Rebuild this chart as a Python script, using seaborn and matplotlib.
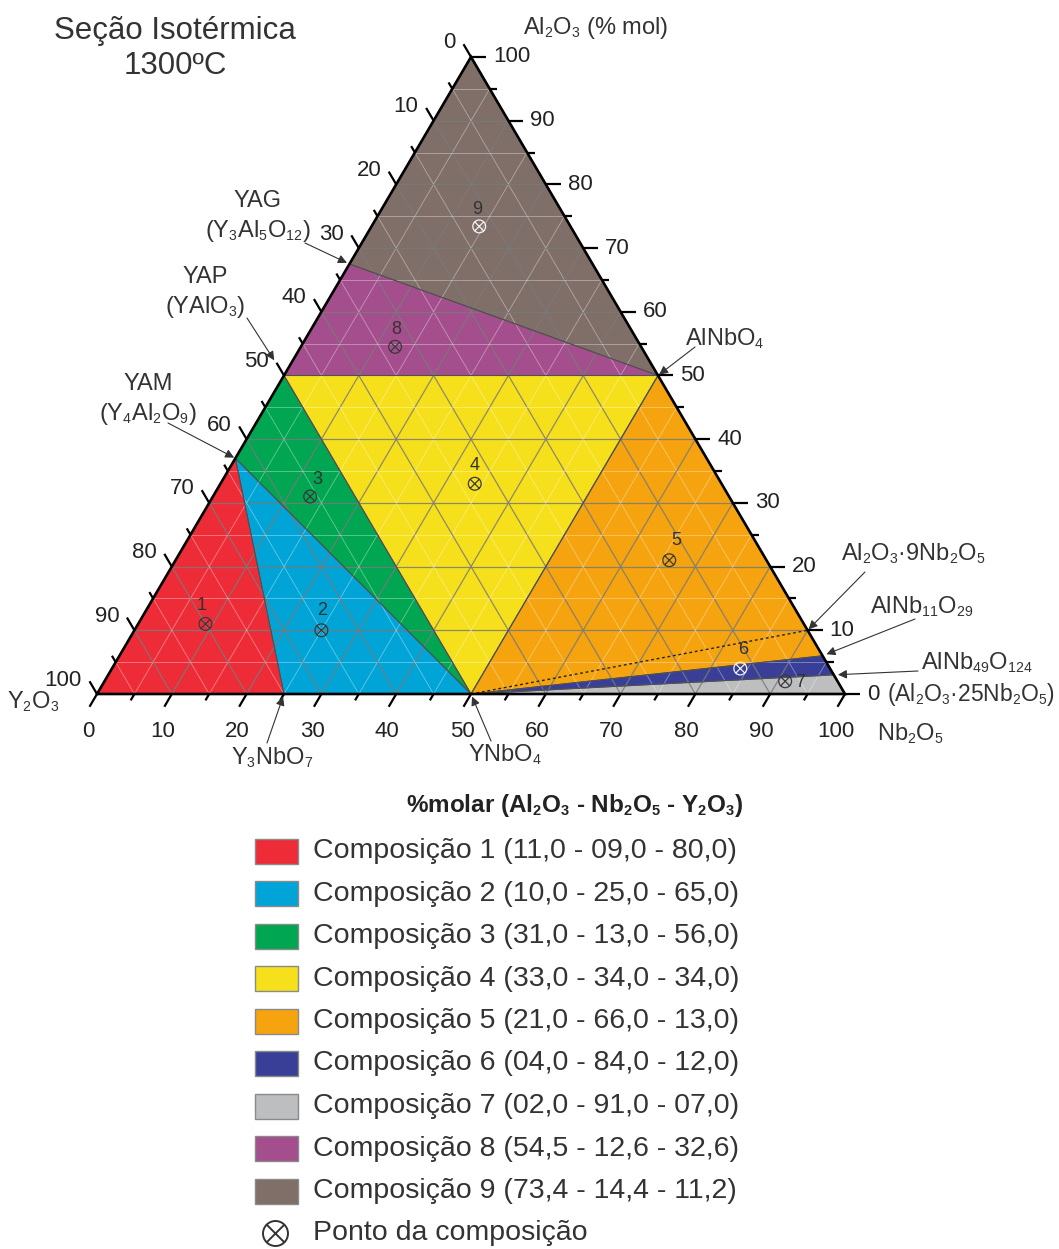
import numpy as np
import pandas as pd
import matplotlib
matplotlib.use("Agg")
import matplotlib.pyplot as plt
from matplotlib.path import Path
from matplotlib.patches import Rectangle
import matplotlib._mathtext as _mt
import seaborn as sns

_mt.SHRINK_FACTOR = 0.6   # smaller sub/superscripts, closer to the reference

# ------------------------------------------------------------------ data
# phase-diagram nodes (mol % Al2O3, mol % Nb2O5; Y2O3 is the rest)
node_names = ["Al2O3", "Nb2O5", "Y2O3", "YAG", "YAP", "YAM", "Y3NbO7",
              "YNbO4", "AlNbO4", "Al2O3_9Nb2O5", "AlNb11O29", "AlNb49O124"]
node_al = [100.0, 0.0, 0.0, 67.5, 50.0, 37.0, 0.0, 0.0, 50.0, 10.0, 6.0, 3.0]
node_nb = [0.0, 100.0, 0.0, 0.0, 0.0, 0.0, 25.0, 50.0, 50.0, 90.0, 94.0, 97.0]

# phase fields, one per composition
field_nodes = [
    ["Y2O3", "Y3NbO7", "YAM"],
    ["YAM", "Y3NbO7", "YNbO4"],
    ["YAM", "YNbO4", "YAP"],
    ["YAP", "YNbO4", "AlNbO4"],
    ["AlNbO4", "YNbO4", "AlNb11O29"],
    ["YNbO4", "AlNb49O124", "AlNb11O29"],
    ["YNbO4", "Nb2O5", "AlNb49O124"],
    ["YAP", "AlNbO4", "YAG"],
    ["YAG", "AlNbO4", "Al2O3"],
]
field_colors = ["#ED2C38", "#00A4D6", "#00A651", "#F6E01B", "#F5A30E",
                "#393F96", "#BCBEC0", "#A44E8D", "#806E68"]

# composition points (Al2O3 - Nb2O5 - Y2O3, mol %)
comp_ids = ["1", "2", "3", "4", "5", "6", "7", "8", "9"]
comp_al = [11.0, 10.0, 31.0, 33.0, 21.0, 4.0, 2.0, 54.5, 73.4]
comp_nb = [9.0, 25.0, 13.0, 34.0, 66.0, 84.0, 91.0, 12.6, 14.4]
comp_y = [80.0, 65.0, 56.0, 34.0, 13.0, 12.0, 7.0, 32.6, 11.2]
comp_tone = ["dark", "dark", "dark", "dark", "dark", "light", "dark", "dark", "light"]

legend_labels = [
    "Composição 1 (11,0 - 09,0 - 80,0)",
    "Composição 2 (10,0 - 25,0 - 65,0)",
    "Composição 3 (31,0 - 13,0 - 56,0)",
    "Composição 4 (33,0 - 34,0 - 34,0)",
    "Composição 5 (21,0 - 66,0 - 13,0)",
    "Composição 6 (04,0 - 84,0 - 12,0)",
    "Composição 7 (02,0 - 91,0 - 07,0)",
    "Composição 8 (54,5 - 12,6 - 32,6)",
    "Composição 9 (73,4 - 14,4 - 11,2)",
]
tick_values = list(range(0, 101, 5))

# ------------------------------------------------------------------ style
sns.set_theme(style="white")
plt.rcParams["font.family"] = ["Liberation Sans", "DejaVu Sans"]
plt.rcParams["mathtext.fontset"] = "custom"
plt.rcParams["mathtext.rm"] = "Liberation Sans"
plt.rcParams["mathtext.it"] = "Liberation Sans"
plt.rcParams["mathtext.bf"] = "Liberation Sans:bold"

TXT = "#333333"
W, H = 1059, 1249
X0, Y0, SX, SY = 97.0, 694.0, 7.48, 7.356   # pixel layout of the triangle

fig = plt.figure(figsize=(W / 100, H / 100), dpi=100)
ax = fig.add_axes([0, 0, 1, 1])
XL = (-X0 / SX, (W - X0) / SX)
YL = ((Y0 - H) / SY, Y0 / SY)

R3 = np.sqrt(3) / 2


def tern(al, nb):
    return nb + al / 2.0, al * R3


def px(x, y):
    return (x - X0) / SX, (Y0 - y) / SY


def off(p, dx, dy):
    return p[0] + dx / SX, p[1] - dy / SY


nodes = {n: tern(a, b) for n, a, b in zip(node_names, node_al, node_nb)}

# ------------------------------------------------------------------ phase fields
for names, col in zip(field_nodes, field_colors):
    xs = [nodes[n][0] for n in names]
    ys = [nodes[n][1] for n in names]
    ax.fill(xs, ys, facecolor=col, edgecolor="none", zorder=1)

# grid
for v in range(5, 100, 5):
    major = v % 10 == 0
    kw = dict(color="#7a7a7a", lw=0.9, alpha=0.85) if major else dict(color="#ffffff", lw=0.6, alpha=0.4)
    for a, b in [((v, 0), (v, 100 - v)), ((0, v), (100 - v, v)), ((0, 100 - v), (100 - v, 0))]:
        p, q = tern(*a), tern(*b)
        ax.plot([p[0], q[0]], [p[1], q[1]], zorder=2, solid_capstyle="butt", **kw)

# phase boundaries
for names in field_nodes:
    xs = [nodes[n][0] for n in names] + [nodes[names[0]][0]]
    ys = [nodes[n][1] for n in names] + [nodes[names[0]][1]]
    ax.plot(xs, ys, color="#505050", lw=0.7, zorder=3)

# dashed tie line YNbO4 - Al2O3.9Nb2O5
p, q = nodes["YNbO4"], nodes["Al2O3_9Nb2O5"]
ax.plot([p[0], q[0]], [p[1], q[1]], color="#222222", lw=1.0, ls=(0, (2, 2)), zorder=3)

# outline
tri = [nodes["Y2O3"], nodes["Nb2O5"], nodes["Al2O3"], nodes["Y2O3"]]
ax.plot([t[0] for t in tri], [t[1] for t in tri], color="black", lw=1.9, zorder=4,
        solid_joinstyle="miter")

# ticks and tick labels
tkw = dict(color="black", lw=1.6, zorder=4, solid_capstyle="butt")
for v in tick_values:
    L = 2.0 if v % 10 == 0 else 1.0
    a, b = tern(0, v), tern(-L, v)                       # bottom (Nb2O5)
    ax.plot([a[0], b[0]], [a[1], b[1]], **tkw)
    a, b = tern(v, 100 - v), tern(v, 100 - v + L)        # right (Al2O3)
    ax.plot([a[0], b[0]], [a[1], b[1]], **tkw)
    a, b = tern(100 - v, 0), tern(100 - v + L, -L)       # left (Y2O3)
    ax.plot([a[0], b[0]], [a[1], b[1]], **tkw)
    if v % 10 == 0:
        ax.text(*off(tern(0, v), -9, 37), str(v), ha="center", va="center",
                fontsize=16, color="#222222")
        ax.text(*off(tern(v, 100 - v), 22, 0), str(v), ha="left", va="center",
                fontsize=16, color="#222222")
        ax.text(*off(tern(100 - v, 0), -15, -14), str(v), ha="right", va="center",
                fontsize=16, color="#222222")

# composition points
df = pd.DataFrame({"al": comp_al, "nb": comp_nb, "y": comp_y, "id": comp_ids, "tone": comp_tone})
df["x"] = df["nb"] + df["al"] / 2.0
df["yy"] = df["al"] * R3

d = 1 / np.sqrt(2)
xpath = Path([(-d, -d), (d, d), (-d, d), (d, -d)],
             [Path.MOVETO, Path.LINETO, Path.MOVETO, Path.LINETO])
otimes = Path.make_compound_path(Path.unit_circle(), xpath)

sns.scatterplot(data=df, x="x", y="yy", hue="tone",
                palette={"dark": "#3a3a3a", "light": "#f2f2f2"},
                marker=otimes, s=85, linewidth=0.9, legend=False, ax=ax, zorder=6)
coll = ax.collections[-1]
coll.set_edgecolors(coll.get_facecolors())
coll.set_facecolors("none")

label_offsets = [(-4, -18), (1, -20), (7, -17), (0, -18), (7, -20),
                 (3, -19), (15, 1), (1, -17), (-2, -17)]
for (_, r), (dx, dy) in zip(df.iterrows(), label_offsets):
    ax.text(*off((r["x"], r["yy"]), dx, dy), r["id"], ha="center", va="center",
            fontsize=13, color=TXT, zorder=7)

# ------------------------------------------------------------------ texts
ax.text(*px(175, 31), "Seção Isotérmica", ha="center", va="center", fontsize=22.5, color=TXT)
ax.text(*px(175, 66), "1300ºC", ha="center", va="center", fontsize=22.5, color=TXT)
ax.text(*px(596, 28), r"Al$_2$O$_3$ (% mol)", ha="center", va="center", fontsize=17, color=TXT)
ax.text(*px(33, 702), r"Y$_2$O$_3$", ha="center", va="center", fontsize=17, color=TXT)
ax.text(*px(910, 734), r"Nb$_2$O$_5$", ha="center", va="center", fontsize=17, color=TXT)

ax.text(*px(258, 201), "YAG", ha="center", va="center", fontsize=17, color=TXT)
ax.text(*px(258, 231), r"(Y$_3$Al$_5$O$_{12}$)", ha="center", va="center", fontsize=17, color=TXT)
ax.text(*px(205, 277), "YAP", ha="center", va="center", fontsize=17, color=TXT)
ax.text(*px(205, 307), r"(YAlO$_3$)", ha="center", va="center", fontsize=17, color=TXT)
ax.text(*px(148, 384), "YAM", ha="center", va="center", fontsize=17, color=TXT)
ax.text(*px(148, 414), r"(Y$_4$Al$_2$O$_9$)", ha="center", va="center", fontsize=17, color=TXT)
ax.text(*px(725, 339), r"AlNbO$_4$", ha="center", va="center", fontsize=17, color=TXT)
ax.text(*px(272, 758), r"Y$_3$NbO$_7$", ha="center", va="center", fontsize=17, color=TXT)
ax.text(*px(505, 755), r"YNbO$_4$", ha="center", va="center", fontsize=17, color=TXT)
ax.text(*px(841, 554), r"Al$_2$O$_3$·9Nb$_2$O$_5$", ha="left", va="center", fontsize=17, color=TXT)
ax.text(*px(870, 607), r"AlNb$_{11}$O$_{29}$", ha="left", va="center", fontsize=17, color=TXT)
ax.text(*px(921, 663), r"AlNb$_{49}$O$_{124}$", ha="left", va="center", fontsize=17, color=TXT)
ax.text(*px(887, 694), r"(Al$_2$O$_3$·25Nb$_2$O$_5$)", ha="left", va="center", fontsize=16.5, color=TXT)

arrows = [
    ((305, 243), "YAG", 2),
    ((247, 318), "YAP", 13),
    ((168, 423), "YAM", 1),
    ((695, 347), "AlNbO4", 1),
    ((267, 743), "Y3NbO7", 2),
    ((491, 741), "YNbO4", 2),
    ((865, 572), "Al2O3_9Nb2O5", 1),
    ((915, 619), "AlNb11O29", 3),
    ((918, 671), "AlNb49O124", 3),
]
for start, tgt, shr in arrows:
    ax.annotate("", xy=nodes[tgt], xytext=px(*start), zorder=8,
                arrowprops=dict(arrowstyle="-|>", color="#333333", lw=0.8,
                                mutation_scale=13, shrinkA=0, shrinkB=shr))

# ------------------------------------------------------------------ legend
ax.text(*px(575, 805), r"%molar (Al$_\mathbf{2}$O$_\mathbf{3}$ - Nb$_\mathbf{2}$O$_\mathbf{5}$ - Y$_\mathbf{2}$O$_\mathbf{3}$)",
        ha="center", va="center", fontsize=17.5, fontweight="bold", color="#222222")
for i, (lab, col) in enumerate(zip(legend_labels, field_colors)):
    cy = 851 + 42.5 * i
    x0, y0 = px(255, cy + 12.5)
    ax.add_patch(Rectangle((x0, y0), 43 / SX, 25 / SY, facecolor=col,
                           edgecolor="#8a8a8a", lw=1.0, zorder=5))
    ax.text(*px(313, cy), lab, ha="left", va="center", fontsize=20.5, color=TXT)
ax.plot(*px(275, 1233), marker=otimes, markersize=18, mfc="none", mec=TXT, mew=1.4, ls="none")
ax.text(*px(313, 1233), "Ponto da composição", ha="left", va="center", fontsize=20.5, color=TXT)

ax.set_xlim(*XL)
ax.set_ylim(*YL)
ax.set_xlabel("")
ax.set_ylabel("")
ax.axis("off")

fig.savefig("out.png", dpi=100)
